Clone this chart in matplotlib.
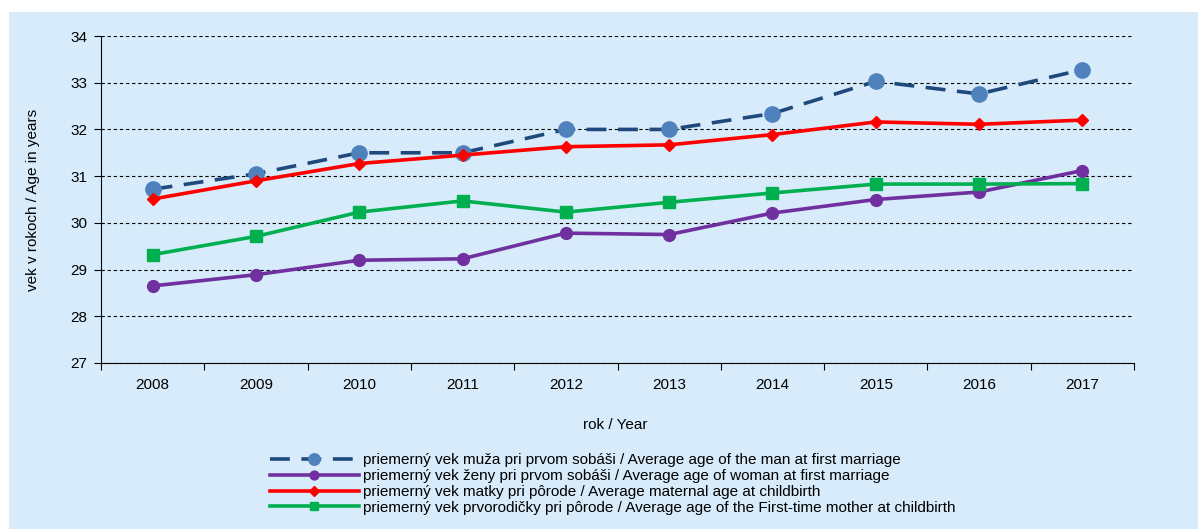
import matplotlib
matplotlib.use("Agg")
import matplotlib.pyplot as plt
from matplotlib.patches import Rectangle

years = ["2008", "2009", "2010", "2011", "2012", "2013", "2014", "2015", "2016", "2017"]
men_first_marriage = [30.72, 31.05, 31.50, 31.50, 32.00, 32.00, 32.34, 33.03, 32.76, 33.28]
women_first_marriage = [28.65, 28.89, 29.20, 29.23, 29.78, 29.75, 30.21, 30.50, 30.66, 31.12]
maternal_age = [30.51, 30.90, 31.27, 31.45, 31.63, 31.67, 31.89, 32.16, 32.11, 32.20]
first_time_mother = [29.32, 29.71, 30.23, 30.47, 30.23, 30.44, 30.64, 30.83, 30.83, 30.84]

labels = [
    "priemerný vek muža pri prvom sobáši / Average age of the man at first marriage",
    "priemerný vek ženy pri prvom sobáši / Average age of woman at first marriage",
    "priemerný vek matky pri pôrode / Average maternal age at childbirth",
    "priemerný vek prvorodičky pri pôrode / Average age of the First-time mother at childbirth",
]

plt.rcParams['font.family'] = ['Liberation Sans', 'DejaVu Sans']
bg = '#D7EBFA'

fig = plt.figure(figsize=(11.98, 5.29), dpi=100)
fig.patch.set_facecolor('white')
fig.patches.append(Rectangle((9 / 1198, 0), 1, 1 - 12 / 529, transform=fig.transFigure,
                             facecolor=bg, edgecolor='none', zorder=-10))

ax = fig.add_axes([101 / 1198, 1 - 363 / 529, (1134 - 101) / 1198, (363 - 36) / 529])
ax.set_facecolor(bg)
x = list(range(len(years)))

ax.plot(x, men_first_marriage, color='#1F497D', lw=2.6, dashes=(5.5, 3.2),
        marker='o', ms=11, mfc='#4F81BD', mec='#4F81BD', label=labels[0], zorder=4)
ax.plot(x, women_first_marriage, color='#7030A0', lw=2.6,
        marker='o', ms=8.5, mfc='#7030A0', mec='#7030A0', label=labels[1], zorder=3)
ax.plot(x, maternal_age, color='#FF0000', lw=2.6,
        marker='D', ms=6.5, mfc='#FF0000', mec='#FF0000', label=labels[2], zorder=5)
ax.plot(x, first_time_mother, color='#00B050', lw=2.6,
        marker='s', ms=8.5, mfc='#00B050', mec='#00B050', label=labels[3], zorder=3)

ax.set_xlim(-0.5, len(years) - 0.5)
ax.set_ylim(27, 34)
ax.set_yticks(range(27, 35))
ax.set_xticks(x)
ax.set_xticklabels(years)
ax.set_xticks([i - 0.5 for i in range(len(years) + 1)], minor=True)
ax.tick_params(axis='x', which='major', length=0, pad=11, labelsize=11)
ax.tick_params(axis='x', which='minor', length=5, direction='out', width=0.8)
ax.tick_params(axis='y', length=5, direction='out', width=0.8, labelsize=11, pad=5)

ax.grid(axis='y', color='black', linestyle=(0, (3, 2.5)), lw=0.8)
ax.set_axisbelow(True)
for side in ['top', 'right']:
    ax.spines[side].set_visible(False)
ax.spines['left'].set_linewidth(0.8)
ax.spines['bottom'].set_linewidth(0.8)

ax.set_ylabel("vek v rokoch / Age in years", fontsize=11, labelpad=22)
fig.text(615 / 1198, 1 - 425 / 529, "rok / Year", ha='center', va='center', fontsize=11)

fig.legend(loc='center', bbox_to_anchor=(613 / 1198, 1 - 484 / 529), frameon=False,
           fontsize=11, handlelength=5.8, labelspacing=0.12, handletextpad=0.3,
           markerscale=0.75, borderaxespad=0)

fig.savefig("out.png", dpi=100, facecolor=fig.get_facecolor())
